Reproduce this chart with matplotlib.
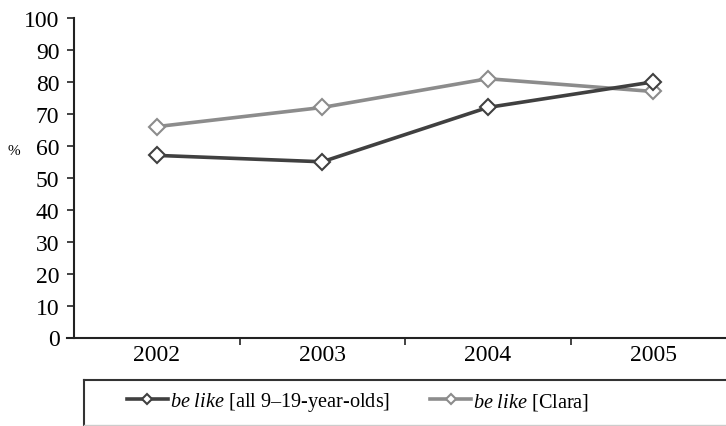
import matplotlib
matplotlib.use("Agg")
import matplotlib.pyplot as plt
from matplotlib.lines import Line2D

plt.rcParams['font.family'] = ['Liberation Serif', 'DejaVu Serif']
plt.rcParams['mathtext.fontset'] = 'custom'
plt.rcParams['mathtext.rm'] = 'Liberation Serif'
plt.rcParams['mathtext.it'] = 'Liberation Serif:italic'

years = ["2002", "2003", "2004", "2005"]
all_9_19 = [57, 55, 72, 80]
clara = [66, 72, 81, 77]
series_labels = [r"$\mathit{be\ like}$ [all 9–19-year-olds]", r"$\mathit{be\ like}$ [Clara]"]
yticks = [0, 10, 20, 30, 40, 50, 60, 70, 80, 90, 100]

W, H = 726, 427
fig = plt.figure(figsize=(W / 100, H / 100), dpi=100)
ax = fig.add_axes([74 / W, (H - 338.5) / H, (736 - 74) / W, (338.5 - 19) / H])

dark = '#404040'
light = '#8c8c8c'
x = list(range(len(years)))
l1, = ax.plot(x, all_9_19, color=dark, lw=2.6, marker='D', markersize=8.5,
              markerfacecolor='white', markeredgecolor=dark, markeredgewidth=1.5,
              label=series_labels[0], zorder=3)
l2, = ax.plot(x, clara, color=light, lw=2.6, marker='D', markersize=8.5,
              markerfacecolor='white', markeredgecolor=light, markeredgewidth=1.5,
              label=series_labels[1], zorder=2)
ax.set_xlim(-0.5, 3.5)
ax.set_ylim(0, 100)
ax.set_yticks(yticks)
ax.set_yticklabels([str(v) for v in yticks], fontsize=17)
ax.set_xticks(x)
ax.set_xticklabels(years, fontsize=17)
ax.set_xticks([0.5, 1.5, 2.5], minor=True)
ax.tick_params(axis='x', which='major', length=0, pad=5)
ax.tick_params(axis='x', which='minor', length=5, width=1.2, direction='out', color='#222222')
ax.tick_params(axis='y', length=5, width=1.2, direction='out', color='#222222', pad=5.5)
for s in ['top', 'right']:
    ax.spines[s].set_visible(False)
for s in ['left', 'bottom']:
    ax.spines[s].set_linewidth(1.5)
    ax.spines[s].set_color('#222222')
ax.spines['bottom'].set_bounds(-0.5 - 0.04, 3.5)

fig.text(14 / W, 1 - 152 / H, '%', fontsize=11, ha='center', va='center')

# legend box
fig.add_artist(Line2D([84 / W, 1.0], [1 - 381 / H, 1 - 381 / H], transform=fig.transFigure,
                      color='#333333', lw=1.5))
fig.add_artist(Line2D([84 / W, 84 / W], [1 - 381 / H, 1 - 426 / H], transform=fig.transFigure,
                      color='#333333', lw=1.5))
fig.add_artist(Line2D([84 / W, 1.0], [1 - 426 / H, 1 - 426 / H], transform=fig.transFigure,
                      color='#cccccc', lw=1.0))

leg = fig.legend(handles=[l1, l2], loc='center left', bbox_to_anchor=(127 / W, 1 - 403 / H),
                 ncol=2, frameon=False, fontsize=14.6, handlelength=2.0, handletextpad=0.1,
                 columnspacing=2.0, borderaxespad=0, borderpad=0, markerscale=0.65)

fig.savefig('out.png', dpi=100)
